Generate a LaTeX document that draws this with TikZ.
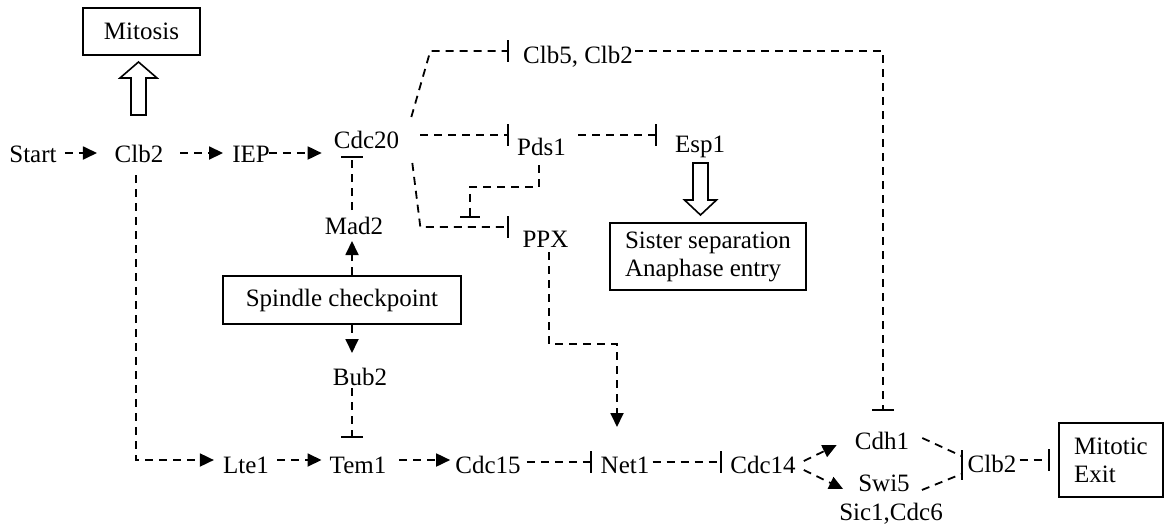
\documentclass[tikz,border=0pt]{standalone}
\usepackage{fontspec}
\setmainfont{Liberation Serif}
\usetikzlibrary{arrows.meta,calc}
\begin{document}
\begin{tikzpicture}[x=1pt,y=-1pt,
  every node/.style={font=\fontsize{25}{28}\selectfont, inner sep=0pt},
  lbl/.style={anchor=base},
  conn/.style={line width=1.8pt, dash pattern=on 8pt off 6pt},
  act/.style={conn, -{Triangle[length=14pt,width=13pt]}},
  inh/.style={conn, -{Bar[width=22pt,line width=2pt]}},
  box/.style={draw, line width=1.6pt},
  onebox/.style={box, text height=17pt, text depth=5pt},
  fat/.style={draw, line width=1.6pt, fill=white}]

\useasboundingbox (0,0) rectangle (1165,525);

% top row
\node[lbl] (start) at (33,162) {Start};
\node[lbl] (clbA) at (139,162) {Clb2};
\node[lbl] (iep) at (251,162) {IEP};
\node[lbl] (cdc20) at (366.5,148) {Cdc20};
\node[box, text height=18pt, text depth=2pt, minimum width=117pt, minimum height=47pt] (mitosis) at (141.5,31.5) {Mitosis};

% targets of Cdc20
\node[lbl] (clb52) at (578,63) {Clb5, Clb2};
\node[lbl] (pds1) at (541.5,155) {Pds1};
\node[lbl] (esp1) at (700,152) {Esp1};
\node[lbl] (ppx) at (545.5,247) {PPX};
\node[box, align=left, minimum width=196pt, minimum height=67pt] (sister) at (708,256.5) {Sister separation\\Anaphase entry};

% checkpoint
\node[onebox, minimum width=238pt, minimum height=48pt] (spindle) at (342,300) {Spindle checkpoint};
\node[lbl] (mad2) at (354,234) {Mad2};
\node[lbl] (bub2) at (360,385) {Bub2};

% bottom row
\node[lbl] (lte1) at (246,473) {Lte1};
\node[lbl] (tem1) at (358,473) {Tem1};
\node[lbl] (cdc15) at (488,473) {Cdc15};
\node[lbl] (net1) at (625,473) {Net1};
\node[lbl] (cdc14) at (763,473) {Cdc14};
\node[lbl] (cdh1) at (882,449) {Cdh1};
\node[lbl] (swi5) at (884,491) {Swi5};
\node[lbl] (sic1) at (891,520) {Sic1,Cdc6};
\node[lbl] (clbB) at (992,472) {Clb2};
\node[box, align=left, minimum width=104pt, minimum height=74pt] (exit) at (1111,460) {Mitotic\\Exit};

% top row connectors
\draw[act] ($(start.base east)+(8,-9)$) -- ($(clbA.base west)+(-17.5,-9)$);
\draw[act] ($(clbA.base east)+(16.7,-9)$) -- ($(iep.base west)+(-9,-9)$);
\draw[act] ($(iep.base east)+(-1,-9)$) -- ($(cdc20.base west)+(-12,5)$);

% Clb2 drives mitosis
\draw[fat] ($(clbA.base)+(-8,-47)$) -- ++(0,-37) -- ++(-11,0) -- ++(18.5,-16)
  -- ++(18.5,16) -- ++(-11,0) -- ++(0,37) -- cycle;

% Cdc20 fan
\draw[inh] ($(cdc20.base east)+(12,-31)$) -- ++(19,-66) -- ($(clb52.base west)+(-14,-12)$);
\draw[inh] ($(clb52.base east)+(2,-12)$) -| ($(cdh1.base)+(1,-38)$);
\draw[inh] ($(cdc20.base east)+(21,-13)$) -- ($(pds1.base west)+(-8,-20)$);
\draw[inh] ($(pds1.base east)+(12,-20)$) -- ($(esp1.base west)+(-18,-17)$);
\draw[inh] ($(cdc20.base east)+(13,15)$) -- ++(8,64) -- ($(ppx.base west)+(-13.5,-20)$);
\coordinate (ppxhit) at ($(ppx.base west)+(-52.5,-29)$);
\draw[conn, -{Bar[width=20pt,line width=2pt]}] ($(pds1.base)+(-2.5,10)$) -- ++(0,22) -| (ppxhit);
\draw[act] ($(ppx.base)+(3.5,5)$) -- ++(0,92) -| ($(net1.base)+(-8,-46)$);

% Esp1 drives sister separation
\draw[fat] ($(esp1.base)+(-7,11)$) -- ++(0,37) -- ++(-8.5,0) -- ++(16,15)
  -- ++(16,-15) -- ++(-8.5,0) -- ++(0,-37) -- cycle;

% spindle checkpoint
\draw[act] ([xshift=10pt]spindle.north) -- ($(mad2.base)+(-2,7)$);
\draw[act] ([xshift=10pt]spindle.south) -- ($(bub2.base)+(-8,-32)$);
\draw[inh] ($(mad2.base)+(-2,-24)$) -- ($(cdc20.base)+(-14.5,8)$);
\draw[inh] ($(bub2.base)+(-8,3)$) -- ($(tem1.base)+(-6,-35)$);

% bottom row connectors
\draw[act] ($(clbA.base)+(-3,13)$) |- ($(lte1.base west)+(-9,-13)$);
\draw[act] ($(lte1.base east)+(8,-13)$) -- ($(tem1.base west)+(-8,-13)$);
\draw[act] ($(tem1.base east)+(13,-13)$) -- ($(cdc15.base west)+(-5,-13)$);
\draw[inh] ($(cdc15.base east)+(6,-11)$) -- ($(net1.base west)+(-9,-11)$);
\draw[inh] ($(net1.base east)+(3,-11)$) -- ($(cdc14.base west)+(-8,-11)$);
\draw[act] ($(cdc14.base east)+(8,-12)$) -- ($(cdh1.base west)+(-18,-4)$);
\draw[act] ($(cdc14.base east)+(8,-3)$) -- ($(swi5.base west)+(-15,-2)$);

% Cdh1 and Swi5 converge on Clb2
\coordinate (clbBbar) at ($(clbB.base west)+(-6,-7)$);
\draw[conn] ($(cdh1.base east)+(13,-11)$) -- ($(clbBbar)+(0,-9)$);
\draw[conn] ($(swi5.base east)+(12,-1)$) -- ($(clbBbar)+(0,9)$);
\draw[line width=2pt] ($(clbBbar)+(0,-15)$) -- ($(clbBbar)+(0,15)$);
\draw[inh] ($(clbB.base east)+(3,-12)$) -- ([xshift=-8pt]exit.west);
\end{tikzpicture}
\end{document}
